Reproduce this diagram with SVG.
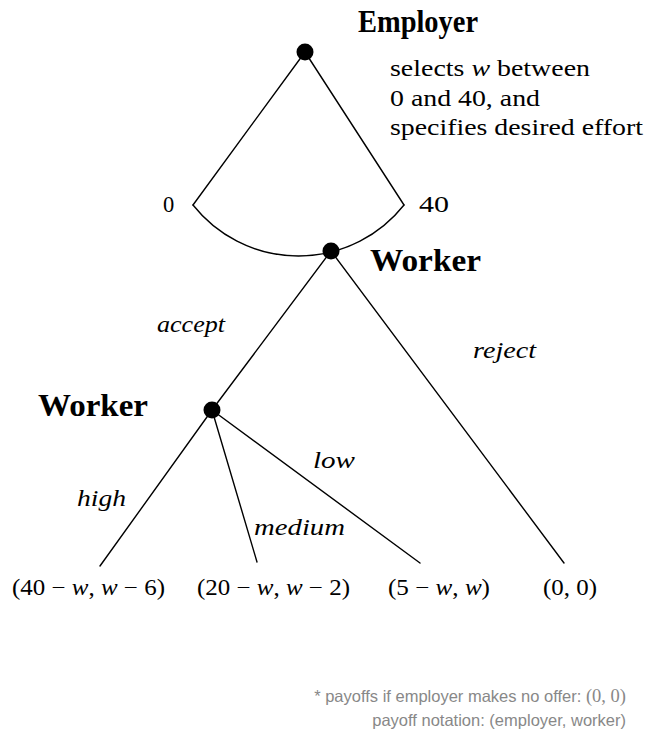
<svg xmlns="http://www.w3.org/2000/svg" width="649" height="745" viewBox="0 0 649 745">
<style>
.bg{fill:#ffffff}
.edge{fill:none;stroke:#000;stroke-width:1.4;stroke-linecap:round}
.dot{fill:#000}
.t{font-family:"Liberation Serif","Times New Roman",serif;font-size:22.5px;fill:#000}
.b{font-family:"Liberation Serif","Times New Roman",serif;font-size:32px;font-weight:bold;fill:#000}
.i{font-style:italic}
.note{font-family:"Liberation Sans",Arial,sans-serif;font-size:16.5px;fill:#888888}
.ns{font-family:"Liberation Serif","Times New Roman",serif;font-size:18.5px}
</style>
<rect class="bg" x="0" y="0" width="649" height="745"/>
<g id="connectors">
  <path class="edge" d="M305,52 L193,205"/>
  <path class="edge" d="M305,52 L404,205"/>
  <path class="edge" d="M193,205 A134.6,134.6 0 0 0 404,205"/>
  <path class="edge" d="M331,251 L212,410"/>
  <path class="edge" d="M331,251 L564,563"/>
  <path class="edge" d="M212,410 L100,566"/>
  <path class="edge" d="M212,410 L257,562"/>
  <path class="edge" d="M212,410 L420,563"/>
</g>
<g id="employer">
  <circle class="dot" cx="305" cy="52" r="8.5"/>
  <text class="b" x="358" y="32" textLength="120" lengthAdjust="spacingAndGlyphs">Employer</text>
  <text class="t" x="390" y="76" textLength="200" lengthAdjust="spacingAndGlyphs">selects <tspan class="i">w</tspan> between</text>
  <text class="t" x="390" y="106" textLength="150" lengthAdjust="spacingAndGlyphs">0 and 40, and</text>
  <text class="t" x="390" y="135" textLength="253" lengthAdjust="spacingAndGlyphs">specifies desired effort</text>
  <text class="t" x="163" y="212">0</text>
  <text class="t" x="419" y="212" textLength="30" lengthAdjust="spacingAndGlyphs">40</text>
</g>
<g id="worker1">
  <circle class="dot" cx="331" cy="251" r="8.5"/>
  <text class="b" x="370" y="271" textLength="111" lengthAdjust="spacingAndGlyphs">Worker</text>
  <text class="t i" x="157" y="332" textLength="68" lengthAdjust="spacingAndGlyphs">accept</text>
  <text class="t i" x="473" y="358" textLength="63" lengthAdjust="spacingAndGlyphs">reject</text>
</g>
<g id="worker2">
  <circle class="dot" cx="212" cy="410" r="8.5"/>
  <text class="b" x="38" y="416" textLength="110" lengthAdjust="spacingAndGlyphs">Worker</text>
  <text class="t i" x="313" y="468" textLength="42" lengthAdjust="spacingAndGlyphs">low</text>
  <text class="t i" x="77" y="506" textLength="49" lengthAdjust="spacingAndGlyphs">high</text>
  <text class="t i" x="254" y="535" textLength="91" lengthAdjust="spacingAndGlyphs">medium</text>
</g>
<g id="payoffs">
  <text class="t" x="12" y="595" textLength="153" lengthAdjust="spacingAndGlyphs">(40 − <tspan class="i">w</tspan>, <tspan class="i">w</tspan> − 6)</text>
  <text class="t" x="197" y="595" textLength="153" lengthAdjust="spacingAndGlyphs">(20 − <tspan class="i">w</tspan>, <tspan class="i">w</tspan> − 2)</text>
  <text class="t" x="388" y="595" textLength="102" lengthAdjust="spacingAndGlyphs">(5 − <tspan class="i">w</tspan>, <tspan class="i">w</tspan>)</text>
  <text class="t" x="543" y="595" textLength="54" lengthAdjust="spacingAndGlyphs">(0, 0)</text>
</g>
<g id="notes">
  <text class="note" x="626" y="702" text-anchor="end">* payoffs if employer makes no offer: <tspan class="ns">(0, 0)</tspan></text>
  <text class="note" x="626" y="726" text-anchor="end">payoff notation: (employer, worker)</text>
</g>
</svg>
